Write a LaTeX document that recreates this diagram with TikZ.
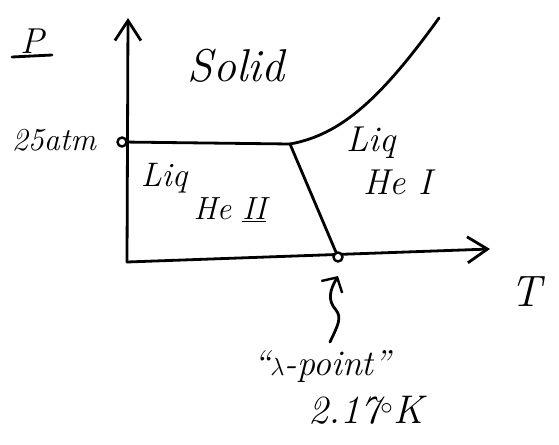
\documentclass[tikz,border=0pt]{standalone}
\usepackage{fontspec}
\usetikzlibrary{arrows.meta}
\begin{document}
\begin{tikzpicture}[x=1pt,y=-1pt,
  ink/.style={line width=2.8pt,line cap=round,line join=round},
  axtip/.style={-{Straight Barb[length=20pt,width=26pt,line width=2.8pt]}},
  dotnode/.style={circle,draw,line width=2.4pt,fill=white,inner sep=0pt,minimum size=9pt},
  hand/.style={font=\itshape\fontsize{#1}{#1}\selectfont,inner sep=0pt},
  hand/.default=26pt]
\useasboundingbox (0,0) rectangle (559,444);
% coordinates
\coordinate (origin) at (127,262);
\coordinate (ytop) at (128,18);
\coordinate (xend) at (490,249);
\coordinate (triple) at (290,144);
\coordinate (curveend) at (439,18);
\coordinate (sqbot) at (330,342);
\coordinate (sqtop) at (338,276);
% axes
\draw[ink,axtip] (origin) -- (ytop);
\draw[ink,axtip] (origin) -- (xend);
% dots
\node[dotnode] (atm) at (122,142) {};
\node[dotnode] (lam) at (338,257) {};
% phase lines
\draw[ink] (atm) -- (triple);
\draw[ink] (triple) .. controls (340,135) and (380,100) .. (curveend);
\draw[ink] (triple) -- (lam);
% squiggle arrow
\draw[ink,-{Straight Barb[length=11pt,width=24pt,line width=2.4pt]}] (sqbot) .. controls (338,325) and (342,318) .. (336,310) .. controls (327,300) and (330,290) .. (sqtop);
% labels
\node[hand=36pt] (P) at (32,41) {P};
\draw[ink] (12,57) -- (52,55);
\node[hand=32pt] (atmlab) at (54,140) {25atm};
\node[hand=46pt] (solid) at (236,66) {Solid};
\node[hand=34pt] (liq2) at (164,178) {Liq};
\node[hand=32pt] (he2) at (230,210) {He \underline{II}};
\node[hand=36pt] (liq1) at (371,143) {Liq};
\node[hand=36pt] (he1) at (398,182) {He I};
\node[hand=44pt] (T) at (526,292) {T};
\node[hand=36pt] (lamlab) at (322,366) {``$\lambda$-point''};
\node[hand=40pt] (templab) at (366,410) {2.17$^{\circ}$K};
\end{tikzpicture}
\end{document}
